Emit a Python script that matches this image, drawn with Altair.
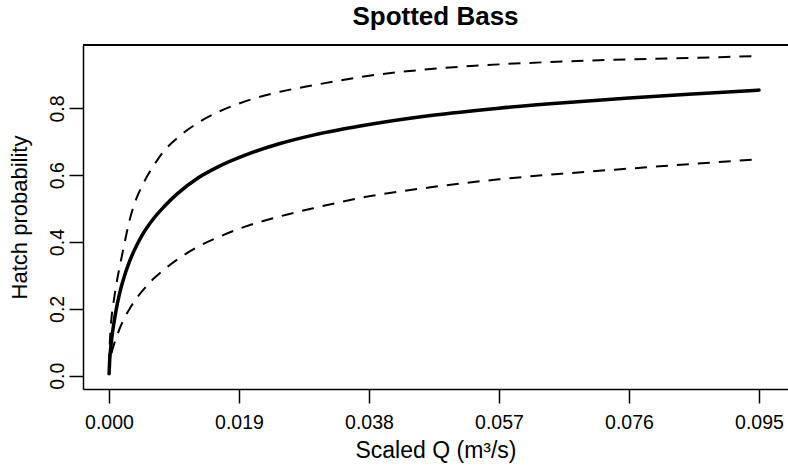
import altair as alt
import pandas as pd

# Scaled discharge values at which the curves are read (m^3/s)
q = [0.00001, 0.0001, 0.0002, 0.0004, 0.0007, 0.001, 0.0015, 0.002, 0.003,
     0.004, 0.005, 0.0065, 0.008, 0.01, 0.013, 0.016, 0.02, 0.025, 0.03,
     0.038, 0.047, 0.057, 0.067, 0.076, 0.086, 0.095]

# Fitted hatch probability (solid line)
fit = [0.006, 0.046, 0.072, 0.112, 0.155, 0.192, 0.242, 0.281, 0.342,
       0.388, 0.426, 0.470, 0.505, 0.545, 0.592, 0.626, 0.661, 0.695, 0.721,
       0.752, 0.779, 0.801, 0.818, 0.831, 0.844, 0.855]

# Upper and lower confidence bounds (dashed lines)
upper = [0.03, 0.09, 0.13, 0.18, 0.225, 0.265, 0.32, 0.37, 0.465,
         0.53, 0.575, 0.628, 0.672, 0.712, 0.757, 0.790, 0.822, 0.850, 0.870,
         0.898, 0.918, 0.932, 0.941, 0.947, 0.952, 0.957]
lower = [0.005, 0.03, 0.047, 0.07, 0.092, 0.11, 0.138, 0.162, 0.20,
         0.231, 0.257, 0.29, 0.317, 0.348, 0.386, 0.415, 0.447, 0.477, 0.502,
         0.537, 0.564, 0.588, 0.606, 0.620, 0.635, 0.648]

x_ticks = [0.0, 0.019, 0.038, 0.057, 0.076, 0.095]
y_ticks = [0.0, 0.2, 0.4, 0.6, 0.8]

df_fit = pd.DataFrame({"q": q, "p": fit})
df_ci = pd.DataFrame({
    "q": q + q,
    "p": upper + lower,
    "band": ["upper"] * len(q) + ["lower"] * len(q),
})

FONT = "Liberation Sans"
W, H = 705, 344

xscale = alt.Scale(domain=[-0.0038, 0.09924], nice=False, zero=False)
yscale = alt.Scale(domain=[-0.0398, 0.99], nice=False, zero=False)

xaxis = alt.Axis(
    values=x_ticks, format=".3f", title="Scaled Q (m³/s)",
    titleBaseline="alphabetic", titleY=68, titleFontSize=23,
    labelPadding=10, labelFlush=False,
)
yaxis = alt.Axis(
    values=y_ticks, format=".1f", title="Hatch probability",
    labelAngle=270, labelAlign="center", labelBaseline="alphabetic",
    labelPadding=6, labelFlush=False,
    titleAngle=270, titleBaseline="alphabetic", titleX=-57, titleY=172,
    titleAlign="center",
)

# top edge of the plot frame (the right edge lies outside the picture)
top_edge = alt.Chart(df_fit).mark_rule(color="black", strokeWidth=1.5).encode(
    x=alt.value(0), x2=alt.value(W), y=alt.value(0)
)

fit_line = alt.Chart(df_fit).mark_line(
    color="black", strokeWidth=3.5, strokeCap="round", interpolate="monotone"
).encode(
    x=alt.X("q:Q", scale=xscale, axis=xaxis),
    y=alt.Y("p:Q", scale=yscale, axis=yaxis),
)

ci_lines = alt.Chart(df_ci).mark_line(
    color="black", strokeWidth=2, strokeDash=[12, 9], interpolate="monotone"
).encode(
    x=alt.X("q:Q", scale=xscale, axis=xaxis),
    y=alt.Y("p:Q", scale=yscale, axis=yaxis),
    detail="band:N",
)

chart = alt.layer(ci_lines, fit_line, top_edge).properties(
    width=W,
    height=H,
    autosize=alt.AutoSizeParams(type="none"),
    padding={"left": 83, "top": 45, "right": 0, "bottom": 78},
    title=alt.TitleParams(
        text="Spotted Bass", font=FONT, fontSize=26, fontWeight="bold",
        color="black", anchor="middle", baseline="alphabetic", offset=17, dy=24,
    ),
    background="white",
).configure_view(
    stroke="transparent"
).configure_axis(
    grid=False, domain=True,
    domainColor="black", domainWidth=1.5,
    tickColor="black", tickSize=14, tickWidth=1.5,
    labelFont=FONT, labelFontSize=19.5, labelColor="black",
    titleFont=FONT, titleFontSize=22, titleFontWeight="normal", titleColor="black",
)

chart.save("out.html", embed_options={"renderer": "svg", "actions": False})
